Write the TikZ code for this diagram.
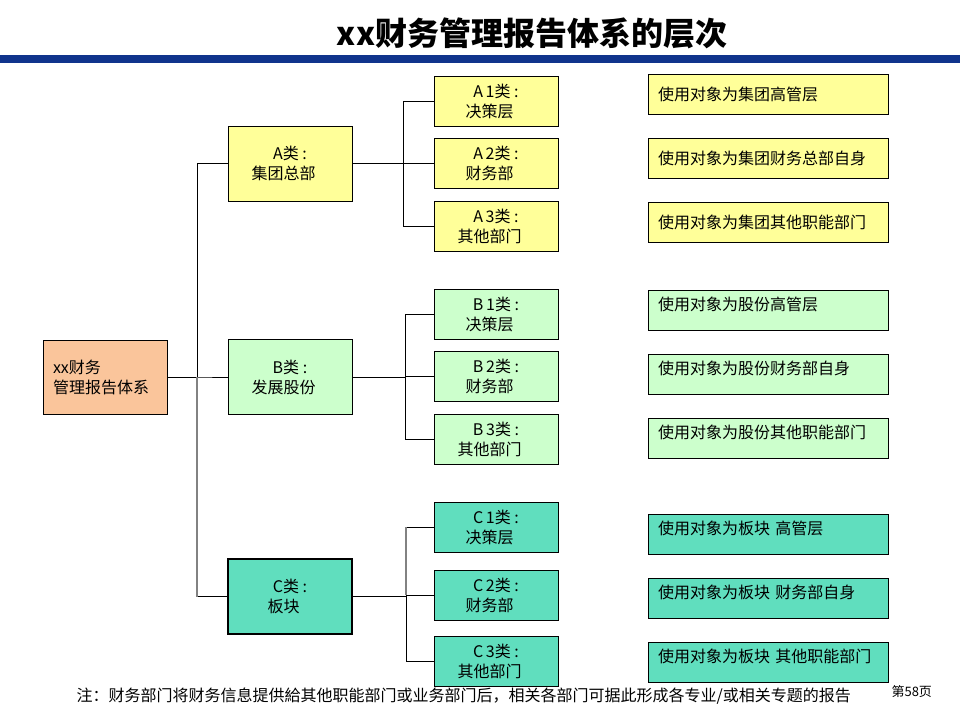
\documentclass[tikz,border=0pt]{standalone}
\usepackage{fontspec}
\setmainfont{Noto Sans CJK SC}
\usetikzlibrary{positioning}
\definecolor{rootorange}{RGB}{250,197,155}
\definecolor{grpyellow}{RGB}{255,255,153}
\definecolor{grpgreen}{RGB}{204,255,204}
\definecolor{grpteal}{RGB}{96,222,190}
\definecolor{barblue}{RGB}{16,52,140}
\definecolor{linegray}{RGB}{130,130,130}
\newcommand{\padright}{\rule{13pt}{0pt}}

\tikzset{
  box/.style={draw=black, line width=1pt, font=\fontsize{16}{20}\selectfont, align=center, inner sep=0pt},
  rootbox/.style={box, fill=rootorange, minimum width=124, minimum height=74, text width=104, inner xsep=10, align=left},
  grpbox/.style={box, minimum width=124, minimum height=75},
  subbox/.style={box, minimum width=124, minimum height=50},
  usebox/.style={box, text width=220, inner xsep=10, minimum height=40, align=left},
  upper/.style={text depth=12pt},
  link/.style={draw=black, line width=0.9pt},
  dimlink/.style={draw=linegray, line width=1.2pt},
}

\begin{document}
\begin{tikzpicture}[x=1pt, y=-1pt]
  \useasboundingbox (0,0) rectangle (960,720);

  % Title and bar
  \node[font=\fontsize{32}{32}\selectfont\bfseries] (title) at (532,33) {xx财务管理报告体系的层次};
  \fill[barblue] (0,55) rectangle (960,63);

  % Root
  \node[rootbox] (root) at (105,377) {xx财务\\管理报告体系};

  % Level 1
  \node[grpbox, fill=grpyellow] (gA) at (290,163.5) {A类 :\\集团总部\padright};
  \node[grpbox, fill=grpgreen] (gB) at (290,377) {B类 :\\发展股份\padright};
  \node[grpbox, fill=grpteal, line width=2pt] (gC) at (290,596.5) {C类 :\\板块\padright};

  % Level 2
  \node[subbox, fill=grpyellow] (gA1) at (496,101) {A\,1类 :\\决策层\padright};
  \node[subbox, fill=grpyellow] (gA2) at (496,163) {A\,2类 :\\财务部\padright};
  \node[subbox, fill=grpyellow] (gA3) at (496,226) {A\,3类 :\\其他部门\padright};
  \node[subbox, fill=grpgreen] (gB1) at (496,314) {B\,1类 :\\决策层\padright};
  \node[subbox, fill=grpgreen] (gB2) at (496,376) {B\,2类 :\\财务部\padright};
  \node[subbox, fill=grpgreen] (gB3) at (496,439) {B\,3类 :\\其他部门\padright};
  \node[subbox, fill=grpteal] (gC1) at (496,527) {C\,1类 :\\决策层\padright};
  \node[subbox, fill=grpteal] (gC2) at (496,595) {C\,2类 :\\财务部\padright};
  \node[subbox, fill=grpteal] (gC3) at (496,661) {C\,3类 :\\其他部门\padright};

  % Users
  \node[usebox, fill=grpyellow] (uA1) at (768,94) {使用对象为集团高管层};
  \node[usebox, fill=grpyellow] (uA2) at (768,158) {使用对象为集团财务总部自身};
  \node[usebox, fill=grpyellow] (uA3) at (768,222) {使用对象为集团其他职能部门};
  \node[usebox, upper, fill=grpgreen] (uB1) at (768,310) {使用对象为股份高管层};
  \node[usebox, upper, fill=grpgreen] (uB2) at (768,374) {使用对象为股份财务部自身};
  \node[usebox, upper, fill=grpgreen] (uB3) at (768,438) {使用对象为股份其他职能部门};
  \node[usebox, upper, fill=grpteal] (uC1) at (768,534) {使用对象为板块 高管层};
  \node[usebox, upper, fill=grpteal] (uC2) at (768,598) {使用对象为板块 财务部自身};
  \node[usebox, upper, fill=grpteal] (uC3) at (768,662) {使用对象为板块 其他职能部门};

  % Connectors
  \coordinate (t0) at (197,0);
  \coordinate (tA) at (403,0);
  \coordinate (tB) at (405,0);
  \coordinate (tC) at (406,0);
  \foreach \g in {A,B,C}
    \draw[link] (root.east) -- (root.east -| t0) |- (g\g.west);
  \draw[dimlink] (t0 |- gB.west) -- (t0 |- gC.west);
  \foreach \g in {A,B,C}
    \foreach \i in {1,2,3}
      \draw[link] (g\g.east) -- (g\g.east -| t\g) |- (g\g\i.west);
  \draw[dimlink] (tC |- gC1.west) -- (tC |- gC2.west);

  % Footnote
  \node[anchor=west, font=\fontsize{16}{16}\selectfont] (note) at (73,696) {注：财务部门将财务信息提供給其他职能部门或业务部门后，相关各部门可据此形成各专业/或相关专题的报告};
  \node[anchor=west, font=\fontsize{13}{13}\selectfont] (page) at (888,692) {第58页};
\end{tikzpicture}
\end{document}
